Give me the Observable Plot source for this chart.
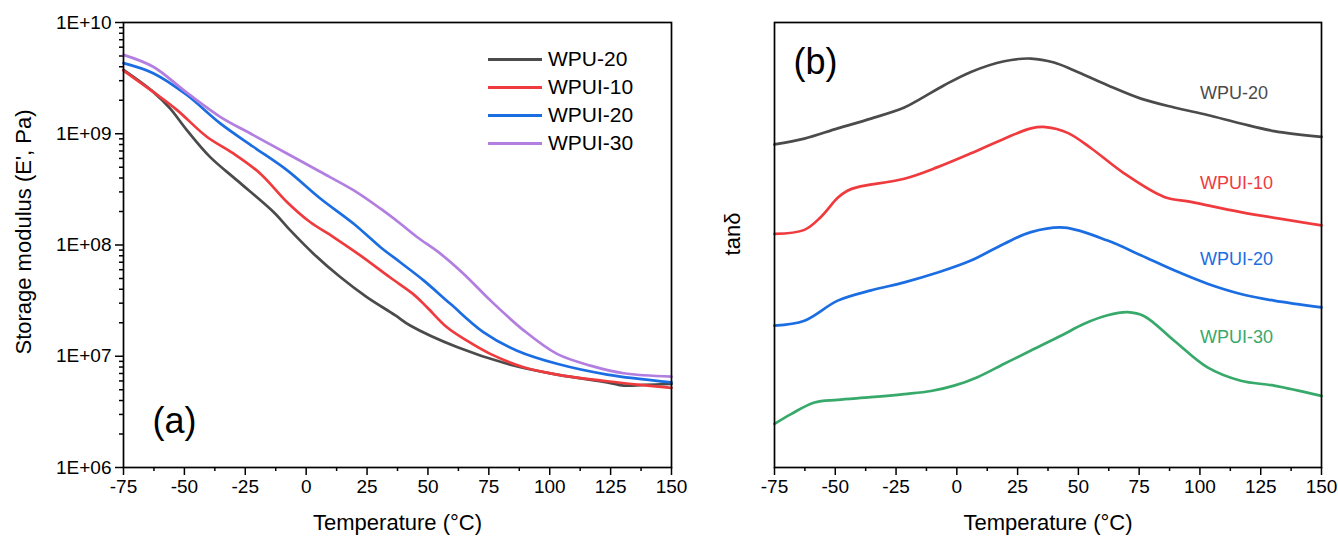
<!DOCTYPE html>
<html>
<head>
<meta charset="utf-8">
<script src="https://cdn.jsdelivr.net/npm/d3@7"></script>
<script src="https://cdn.jsdelivr.net/npm/@observablehq/plot@0.6"></script>
<style>
  html, body { margin: 0; padding: 0; background: #fff; }
  #wrap { position: relative; width: 1338px; height: 536px; overflow: hidden; font-family: "Liberation Sans", Arial, sans-serif; }
  #left, #right { position: absolute; top: 0; }
  #left { left: 0; }
  #right { left: 700px; }
  .leg { position: absolute; left: 488px; font-size: 21px; color: #000; line-height: 28px; }
  .leg .row { display: flex; align-items: center; height: 28px; }
  .leg .sw { width: 54px; height: 3px; margin-right: 6px; }
</style>
</head>
<body>
<div id="wrap">
  <div id="left"></div>
  <div id="right"></div>
  <div class="leg" id="legend" style="top:45px"></div>
</div>
<script>
// ---------- DATA ----------
const seriesNames = ["WPU-20", "WPUI-10", "WPUI-20", "WPUI-30"];
const seriesColors = ["#4b4b4b", "#ef3b3e", "#1b6de2", "#b27ee0"];
const tanColors = ["#4b4b4b", "#ef3b3e", "#1b6de2", "#37a96a"];

const xTicks = [-75, -50, -25, 0, 25, 50, 75, 100, 125, 150];
const yTicksE = [1e6, 1e7, 1e8, 1e9, 1e10];
const yTickLabelsE = ["1E+06", "1E+07", "1E+08", "1E+09", "1E+10"];

// (a) storage modulus E' (Pa) vs temperature (°C)
const T_WPU20 = [-75, -62.8, -55.9, -49, -39.5, -28.5, -13.4, -6.6, 3, 14, 24.9, 36.5, 42.7, 61.9, 82.5, 103, 123.6, 130.4, 138.6, 150];
const E_WPU20 = [3.75e9, 2.38e9, 1.69e9, 1.08e9, 6.2e8, 3.83e8, 1.98e8, 1.36e8, 8.36e7, 5.15e7, 3.4e7, 2.34e7, 1.89e7, 1.21e7, 8.55e6, 6.84e6, 5.83e6, 5.45e6, 5.52e6, 5.64e6];

const T_WPUI10 = [-75, -62.8, -53.1, -40.8, -29.9, -18.9, -7.9, 1.6, 11.2, 22.2, 34.5, 44.1, 49.6, 57.8, 66, 75.6, 89.3, 103, 123.6, 137.3, 150];
const E_WPUI10 = [3.7e9, 2.38e9, 1.64e9, 9.4e8, 6.65e8, 4.4e8, 2.44e8, 1.61e8, 1.18e8, 8.07e7, 5.1e7, 3.6e7, 2.76e7, 1.82e7, 1.38e7, 1.05e7, 7.96e6, 6.84e6, 5.96e6, 5.52e6, 5.19e6];

const T_WPUI20 = [-75, -62.8, -49, -35.3, -21.7, -7.9, 5.8, 19.4, 30.4, 38.6, 48.2, 59.2, 72.9, 86.6, 103, 123.6, 150];
const E_WPUI20 = [4.31e9, 3.5e9, 2.23e9, 1.24e9, 7.64e8, 4.71e8, 2.62e8, 1.56e8, 9.6e7, 7.0e7, 4.81e7, 2.96e7, 1.64e7, 1.12e7, 8.55e6, 6.84e6, 5.83e6];

const T_WPUI30 = [-75, -62.8, -49, -35.3, -21.7, -7.9, 5.8, 19.4, 30.4, 38.6, 45.5, 55.1, 64.6, 75.6, 89.3, 103, 116.7, 130.4, 150];
const E_WPUI30 = [5.12e9, 4.0e9, 2.34e9, 1.42e9, 9.73e8, 6.65e8, 4.55e8, 3.11e8, 2.13e8, 1.56e8, 1.18e8, 8.36e7, 5.52e7, 3.18e7, 1.71e7, 1.05e7, 8.24e6, 7.03e6, 6.56e6];

// (b) tan delta (stacked, arbitrary offset units) vs temperature (°C)
const Tt_WPU20 = [-75, -62.7, -49, -35.3, -21.6, -14.8, -5.2, 5.8, 19.5, 30.5, 40, 48.3, 62, 75.7, 89.4, 103.1, 116.8, 130.5, 150];
const tan_WPU20 = [7.26, 7.39, 7.62, 7.84, 8.09, 8.29, 8.59, 8.89, 9.13, 9.19, 9.1, 8.92, 8.59, 8.29, 8.09, 7.92, 7.73, 7.56, 7.43];

const Tt_WPUI10 = [-75, -62.7, -55.9, -49, -45, -40.8, -21.6, -7.9, 5.8, 19.5, 30.5, 36.5, 45.6, 55.1, 68.8, 85.3, 96.3, 116.8, 150];
const tan_WPUI10 = [5.25, 5.34, 5.63, 6.06, 6.22, 6.3, 6.49, 6.75, 7.06, 7.39, 7.62, 7.65, 7.52, 7.18, 6.61, 6.08, 5.97, 5.74, 5.44];

const Tt_WPUI20 = [-75, -62.7, -49, -35.3, -21.6, -7.9, 5.8, 19.5, 30.5, 44.2, 62, 75.7, 89.4, 103.1, 116.8, 130.5, 150];
const tan_WPUI20 = [3.19, 3.3, 3.75, 3.98, 4.16, 4.38, 4.65, 5.03, 5.29, 5.39, 5.1, 4.77, 4.43, 4.13, 3.9, 3.75, 3.6];

const Tt_WPUI30 = [-75, -68.2, -58.6, -49, -35.3, -21.6, -10.6, -1.1, 8.5, 19.5, 30.5, 42.8, 52.4, 62, 70.2, 77.1, 89.4, 103.1, 116.8, 130.5, 150];
const tan_WPUI30 = [0.98, 1.2, 1.46, 1.52, 1.58, 1.65, 1.72, 1.84, 2.03, 2.33, 2.63, 2.96, 3.23, 3.42, 3.49, 3.4, 2.85, 2.25, 1.95, 1.84, 1.61];

// label anchor positions in data units for panel (b)
const tanLabelT = [100, 100, 100, 100];
const tanLabelV = [8.41, 6.39, 4.67, 2.93];

// ---------- BUILD TABLES ----------
const eSets = [[T_WPU20, E_WPU20], [T_WPUI10, E_WPUI10], [T_WPUI20, E_WPUI20], [T_WPUI30, E_WPUI30]];
const eData = eSets.flatMap(([ts, vs], i) => ts.map((t, j) => ({T: t, E: vs[j], s: seriesNames[i]})));
const tSets = [[Tt_WPU20, tan_WPU20], [Tt_WPUI10, tan_WPUI10], [Tt_WPUI20, tan_WPUI20], [Tt_WPUI30, tan_WPUI30]];
const tData = tSets.flatMap(([ts, vs], i) => ts.map((t, j) => ({T: t, v: vs[j], s: seriesNames[i]})));
const tanLabels = seriesNames.map((s, i) => ({s, T: tanLabelT[i], v: tanLabelV[i], c: tanColors[i]}));

const minorX = d3.range(-62.5, 150, 25);
const minorY = [];
for (let k = 6; k < 10; k++) for (let m = 2; m <= 9; m++) minorY.push(m * Math.pow(10, k));

const FONT = '"Liberation Sans", Arial, sans-serif';
const common = {
  height: 536,
  marginTop: 22,
  marginBottom: 69,
  style: {fontFamily: FONT, fontSize: "19px", color: "#000", background: "transparent", overflow: "visible"}
};

// ---------- PANEL (a) ----------
const left = Plot.plot({
  ...common,
  width: 700,
  marginLeft: 123,
  marginRight: 29,
  x: {domain: [-75, 150], axis: null},
  y: {type: "log", domain: [1e6, 1e10], axis: null},
  marks: [
    Plot.axisX({ticks: minorX, tickSize: 4, tickFormat: () => "", label: null, strokeWidth: 1.5}),
    Plot.axisX({ticks: xTicks, tickSize: 8, tickPadding: 4, tickFormat: d => String(d), label: null, strokeWidth: 1.5, fontSize: 19}),
    Plot.axisY({ticks: minorY, tickSize: 4, tickFormat: () => "", label: null, strokeWidth: 1.5}),
    Plot.axisY({ticks: yTicksE, tickSize: 8, tickPadding: 4, tickFormat: d => yTickLabelsE[yTicksE.indexOf(d)], label: null, strokeWidth: 1.5, fontSize: 19}),
    Plot.line(eData, {x: "T", y: "E", z: "s", stroke: d => d.s, curve: "catmull-rom", strokeWidth: 2.7}),
    Plot.frame({stroke: "#000", strokeWidth: 1.7}),
    Plot.text(["(a)"], {frameAnchor: "bottom-left", dx: 29, dy: -46, textAnchor: "start", lineAnchor: "middle", fontSize: 36}),
    Plot.text(["Storage modulus (E', Pa)"], {frameAnchor: "left", dx: -100, dy: -13, rotate: -90, textAnchor: "middle", lineAnchor: "middle", fontSize: 22}),
    Plot.text(["Temperature (°C)"], {frameAnchor: "bottom", dy: 55, textAnchor: "middle", lineAnchor: "middle", fontSize: 22})
  ],
  color: {domain: seriesNames, range: seriesColors}
});
document.getElementById("left").appendChild(left);

// ---------- PANEL (b) ----------
const right = Plot.plot({
  ...common,
  width: 638,
  marginLeft: 74,
  marginRight: 17,
  x: {domain: [-75, 150], axis: null},
  y: {domain: [0, 10], axis: null},
  marks: [
    Plot.axisX({ticks: minorX, tickSize: 4, tickFormat: () => "", label: null, strokeWidth: 1.5}),
    Plot.axisX({ticks: xTicks, tickSize: 8, tickPadding: 4, tickFormat: d => String(d), label: null, strokeWidth: 1.5, fontSize: 19}),
    Plot.line(tData, {x: "T", y: "v", z: "s", stroke: d => d.s, curve: "catmull-rom", strokeWidth: 2.7}),
    Plot.text(tanLabels, {x: "T", y: "v", text: "s", fill: "c", textAnchor: "start", lineAnchor: "middle", fontSize: 18}),
    Plot.frame({stroke: "#000", strokeWidth: 1.7}),
    Plot.text(["(b)"], {frameAnchor: "top-left", dx: 19, dy: 40, textAnchor: "start", lineAnchor: "middle", fontSize: 36}),
    Plot.text(["tanδ"], {frameAnchor: "left", dx: -42, dy: -11, rotate: -90, textAnchor: "middle", lineAnchor: "middle", fontSize: 22}),
    Plot.text(["Temperature (°C)"], {frameAnchor: "bottom", dy: 55, textAnchor: "middle", lineAnchor: "middle", fontSize: 22})
  ],
  color: {domain: seriesNames, range: tanColors}
});
document.getElementById("right").appendChild(right);

// ---------- LEGEND (a) ----------
const leg = document.getElementById("legend");
seriesNames.forEach((s, i) => {
  const row = document.createElement("div");
  row.className = "row";
  row.innerHTML = `<span class="sw" style="background:${seriesColors[i]}"></span><span>${s}</span>`;
  leg.appendChild(row);
});
</script>
</body>
</html>
